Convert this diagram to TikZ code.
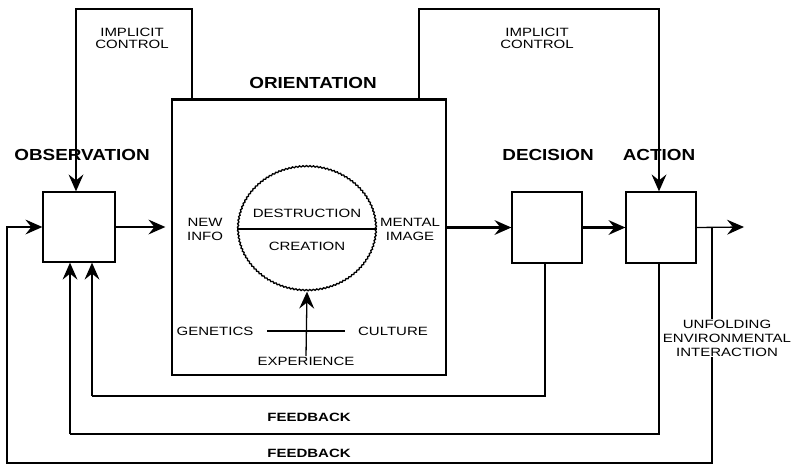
\documentclass[tikz,border=0pt]{standalone}
\usepackage{fontspec}
\setmainfont{Liberation Sans}
\newfontfamily\labfont[FakeStretch=1.25]{Liberation Sans}
\newfontfamily\titfont[FakeStretch=1.18]{Liberation Sans Bold}
\usetikzlibrary{arrows.meta,decorations.pathmorphing,shapes.geometric}
\begin{document}
\begin{tikzpicture}[x=1pt,y=-1pt,
  line width=1.3pt,
  boxnode/.style={draw,rectangle,inner sep=0pt},
  title/.style={font=\titfont\fontsize{16}{16}\selectfont,inner sep=0pt},
  lab/.style={font=\labfont\fontsize{12}{14}\selectfont,inner sep=0pt,align=center},
  arr/.style={-{Stealth[length=17pt,width=15pt,inset=6pt,line width=0pt]}},
  heavy/.style={line width=2.2pt}]
\useasboundingbox (0,0) rectangle (794,466);
% boxes
\node[boxnode,minimum width=72pt,minimum height=70pt] (obs) at (79,227) {};
\node[boxnode,minimum width=274pt,minimum height=275pt] (ori) at (309,237.5) {};
\node[boxnode,minimum width=70pt,minimum height=71pt] (dec) at (547,227.5) {};
\node[boxnode,minimum width=70pt,minimum height=71pt] (act) at (661,227.5) {};
\draw[heavy] (ori.north west) -- (ori.north east);
% circle
\node[ellipse,minimum width=138pt,minimum height=124pt,inner sep=0pt,
  decorate,decoration={snake,amplitude=0.6pt,segment length=3.5pt},draw] (circ) at (307,229) {};
\draw[heavy] (circ.west) -- (circ.east);
% titles
\node[title] (tobs) at (82,155) {OBSERVATION};
\node[title] (tori) at (313,83) {ORIENTATION};
\node[title] (tdec) at (548,155) {DECISION};
\node[title] (tact) at (659,155) {ACTION};
% labels
\node[lab,font=\labfont\fontsize{12}{12}\selectfont] (ic1) at (132,38) {IMPLICIT\\CONTROL};
\node[lab,font=\labfont\fontsize{12}{12}\selectfont] (ic2) at (537,38) {IMPLICIT\\CONTROL};
\node[lab] (newinfo) at (205,229) {NEW\\INFO};
\node[lab] (mental) at (410,229) {MENTAL\\IMAGE};
\node[lab] (destr) at (307,213) {DESTRUCTION};
\node[lab] (creat) at (307,246) {CREATION};
\node[lab] (gen) at (215,331) {GENETICS};
\node[lab] (cul) at (393,331) {CULTURE};
\node[lab] (exp) at (306,361) {EXPERIENCE};
\node[lab,font=\labfont\bfseries\fontsize{12}{14}\selectfont] (fb1) at (309,417) {FEEDBACK};
\node[lab,font=\labfont\bfseries\fontsize{12}{14}\selectfont] (fb2) at (309,453) {FEEDBACK};
\node[lab] (unf) at (727,338) {UNFOLDING\\ENVIRONMENTAL\\INTERACTION};
% coordinates
\coordinate (out) at (744,227);
\coordinate (envtop) at (712,227);
\coordinate (envbot) at (712,463);
\coordinate (envleft) at (7,463);
\coordinate (f1r) at (545,396);
\coordinate (f1l) at (92,396);
\coordinate (f2r) at (659,434);
\coordinate (f2l) at (70,434);
\coordinate (icl1) at (192,9);
\coordinate (icl2) at (76,9);
\coordinate (icr1) at (419,9);
\coordinate (icr2) at (659,9);
% main flow
\draw[arr] (obs.east) -- ([xshift=-6pt]ori.west |- obs.east);
\draw[arr,heavy] (ori.east |- dec.west) -- (dec.west);
\draw[arr,heavy] (dec.east) -- (act.west);
\draw[arr] (act.east) -- (out);
% unfolding environmental interaction loop
\draw (envtop) -- (unf.north -| envtop);
\draw[arr] (unf.south -| envtop) -- (envbot) -- (envleft) -- (envleft |- obs.west) -- (obs.west);
% feedback loops
\draw (dec.south -| f1r) -- (f1r) -- (f1l);
\draw[heavy] (dec.south -| f1r) -- (f1r);
\draw[arr] (f1l) -- (f1l |- obs.south);
\draw (act.south -| f2r) -- (f2r) -- (f2l);
\draw[heavy] (act.south -| f2r) -- (f2r);
\draw[arr] (f2l) -- (f2l |- obs.south);
% implicit control
\draw[arr] (ori.north -| icl1) -- (icl1) -- (icl2) -- (icl2 |- obs.north);
\draw[arr,heavy] (ori.north -| icr1) -- (icr1) -- (icr2) -- (icr2 |- act.north);
% experience
\draw[arr] (exp.north) -- (circ.south);
\draw (267,331) -- (345,331);
\end{tikzpicture}
\end{document}
